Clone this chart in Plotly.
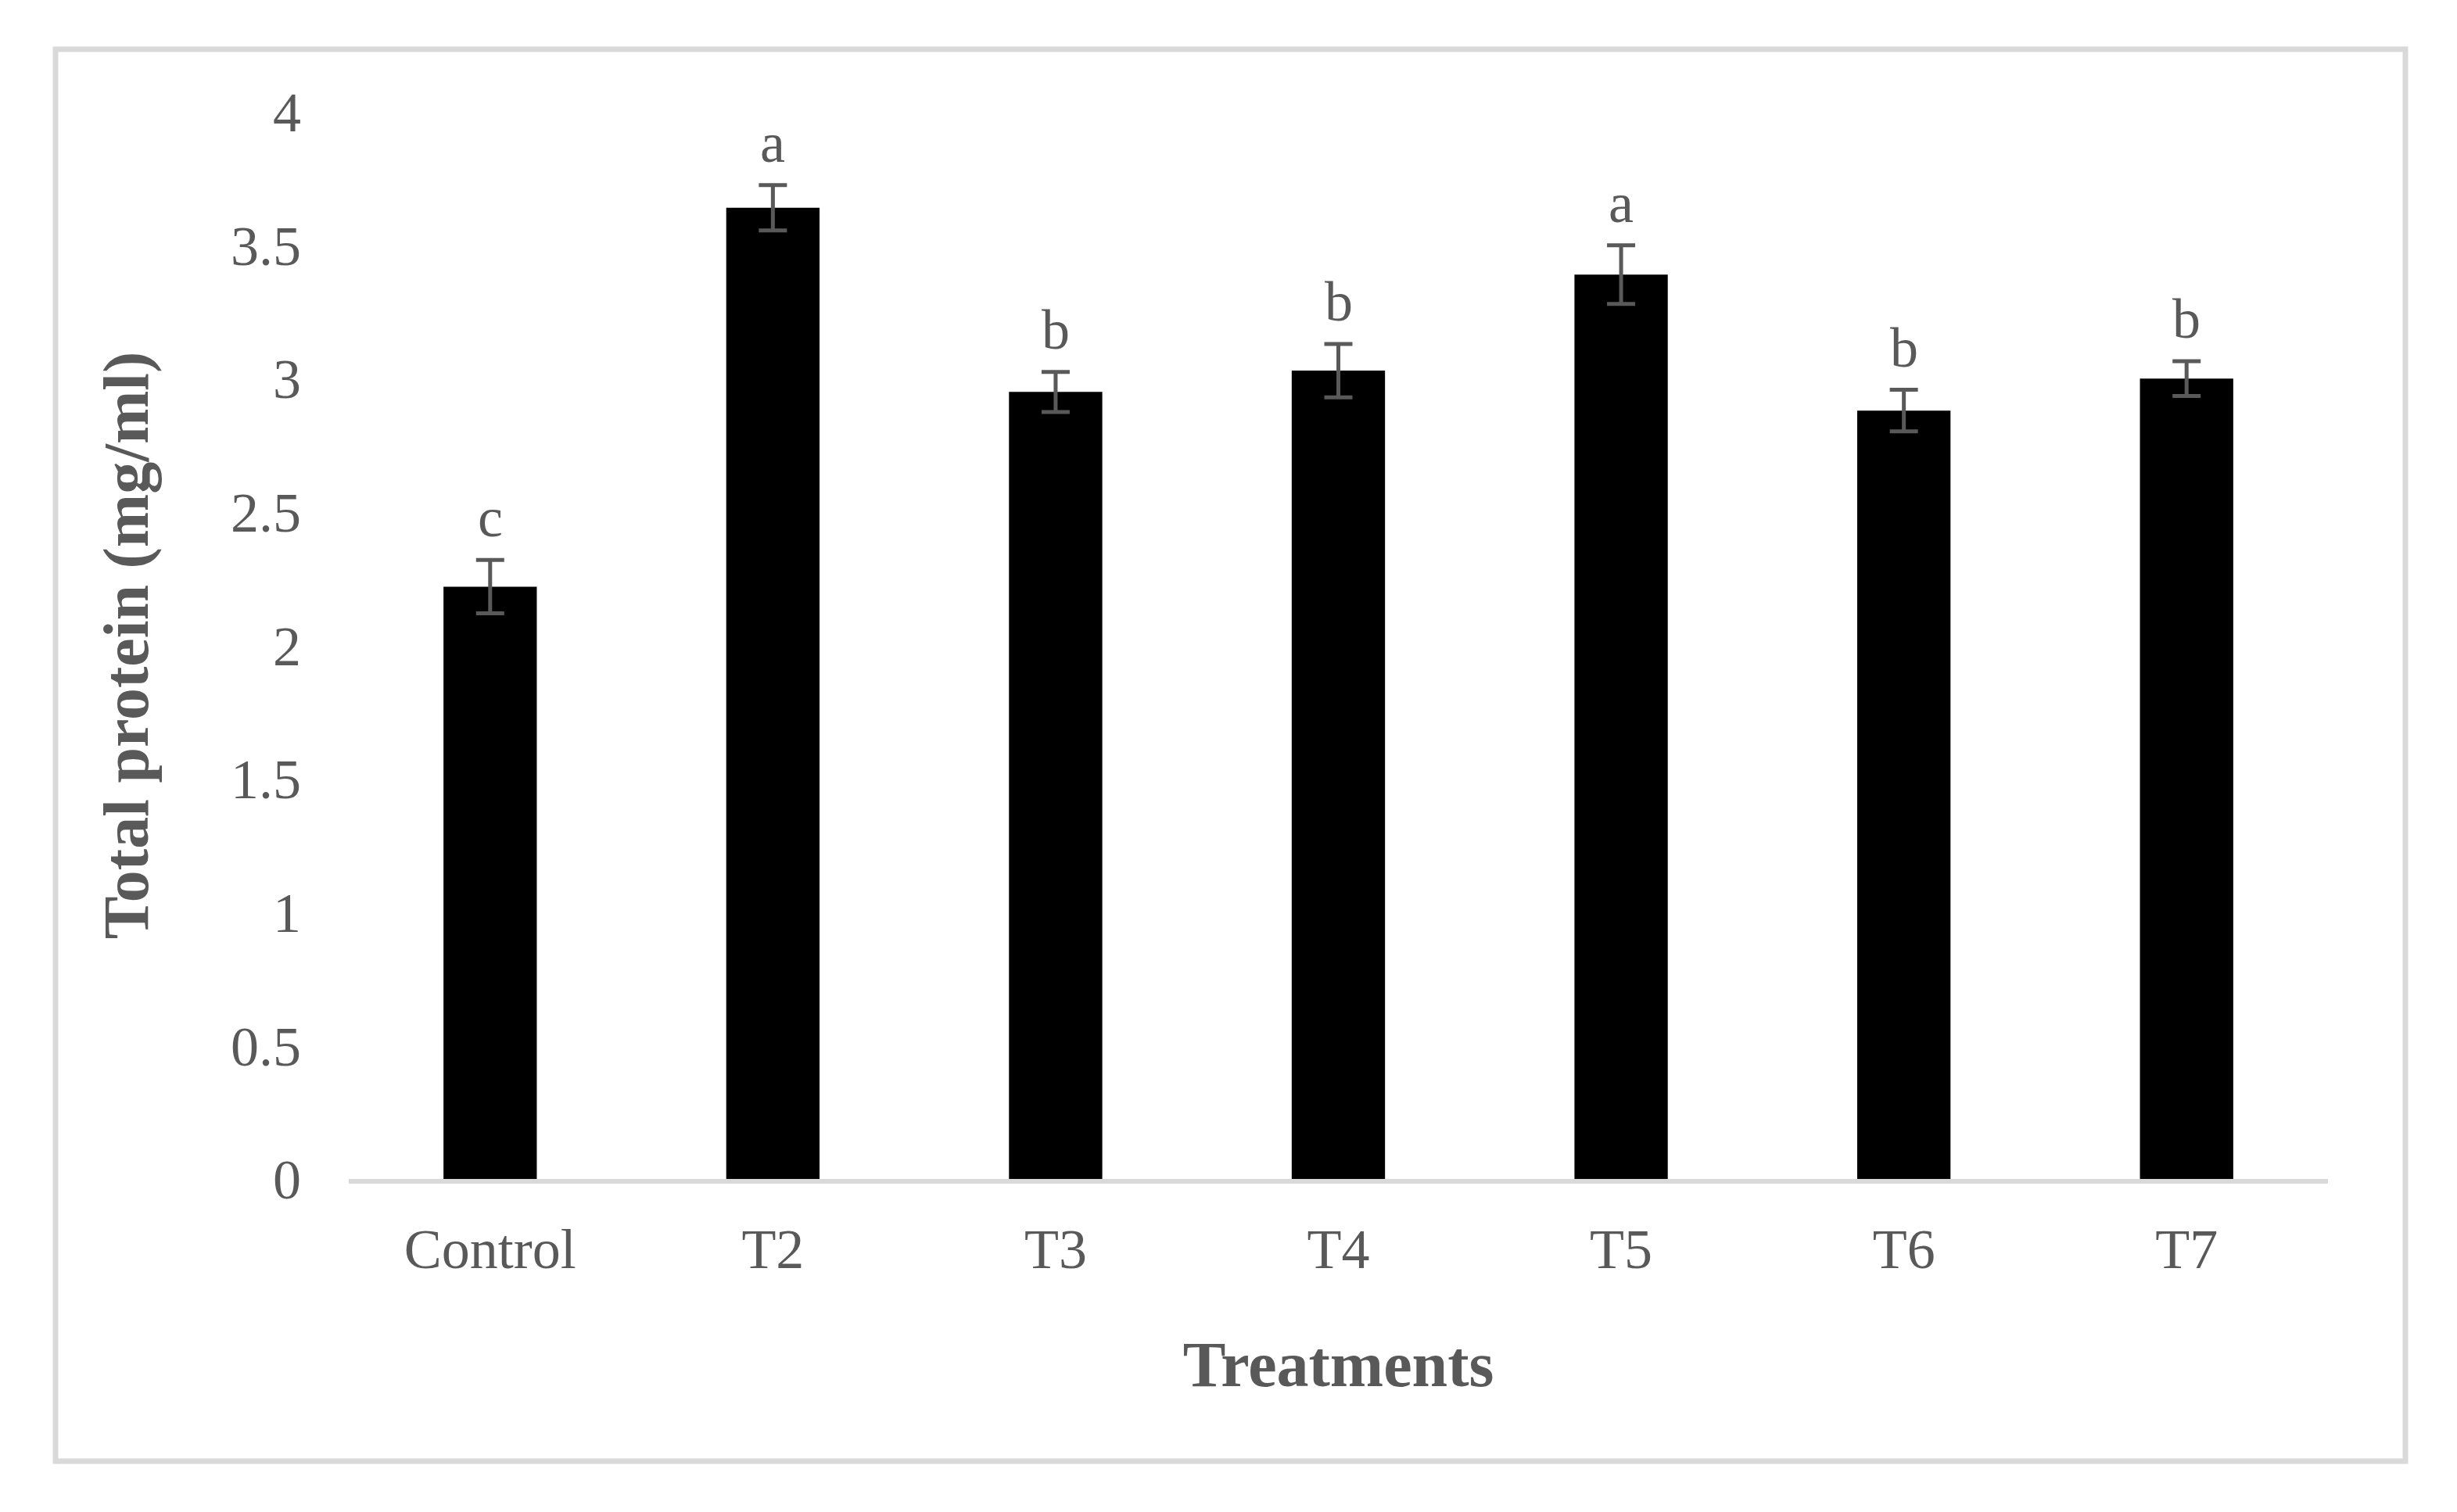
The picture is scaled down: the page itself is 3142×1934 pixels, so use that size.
import plotly.graph_objects as go

# ---- data ----
categories = ["Control", "T2", "T3", "T4", "T5", "T6", "T7"]
values = [2.22, 3.64, 2.95, 3.03, 3.39, 2.88, 3.00]
errors = [0.10, 0.085, 0.075, 0.10, 0.11, 0.078, 0.065]
letters = ["c", "a", "b", "b", "a", "b", "b"]
y_ticks = [0, 0.5, 1, 1.5, 2, 2.5, 3, 3.5, 4]
y_tick_labels = ["0", "0.5", "1", "1.5", "2", "2.5", "3", "3.5", "4"]

W, H = 3142, 1934
OFF = 8  # browser body margin
ML, MR, MT, MB = 446 - OFF, 165 + OFF, 143 - OFF, 426 + OFF
TXT = "#595959"
FONT = "Liberation Serif, Times New Roman, serif"

fig = go.Figure()
fig.add_trace(go.Bar(
    x=categories, y=values,
    marker=dict(color="#000000", line=dict(width=0)),
    error_y=dict(type="data", array=errors, visible=True,
                 color=TXT, thickness=5, width=18),
    showlegend=False,
))

for c, v, e, l in zip(categories, values, errors, letters):
    fig.add_annotation(x=c, y=v + e, text=l, showarrow=False,
                       yanchor="bottom", yshift=12,
                       font=dict(family=FONT, size=72, color=TXT))

# outer border (pixel positions converted to paper coords)
pw, ph = W - ML - MR, H - MT - MB
def px_x(p): return (p - OFF - ML) / pw
def px_y(p): return (H - MB - (p - OFF)) / ph
fig.add_shape(type="rect", xref="paper", yref="paper",
              x0=px_x(71), x1=px_x(3076), y0=px_y(1869), y1=px_y(63),
              line=dict(color="#d9d9d9", width=7), fillcolor="rgba(0,0,0,0)",
              layer="below")

fig.update_layout(
    width=W, height=H,
    margin=dict(l=ML, r=MR, t=MT, b=MB),
    paper_bgcolor="white", plot_bgcolor="white",
    bargap=0.67,
    font=dict(family=FONT, color=TXT),
    xaxis=dict(
        showline=True, linecolor="#d9d9d9", linewidth=6,
        showgrid=False, ticks="", ticklabelstandoff=22,
        tickfont=dict(family=FONT, size=72, color=TXT),
        title=dict(text="<b>Treatments</b>", standoff=80,
                   font=dict(family=FONT, size=82, color=TXT)),
    ),
    yaxis=dict(
        range=[0, 4], tickvals=y_ticks, ticktext=y_tick_labels,
        showline=False, showgrid=False, zeroline=False, ticks="",
        ticklabelstandoff=60,
        tickfont=dict(family=FONT, size=72, color=TXT),
        title=dict(text="<b>Total protein (mg/ml)</b>", standoff=78,
                   font=dict(family=FONT, size=82, color=TXT)),
    ),
)

fig.write_html("out.html")
